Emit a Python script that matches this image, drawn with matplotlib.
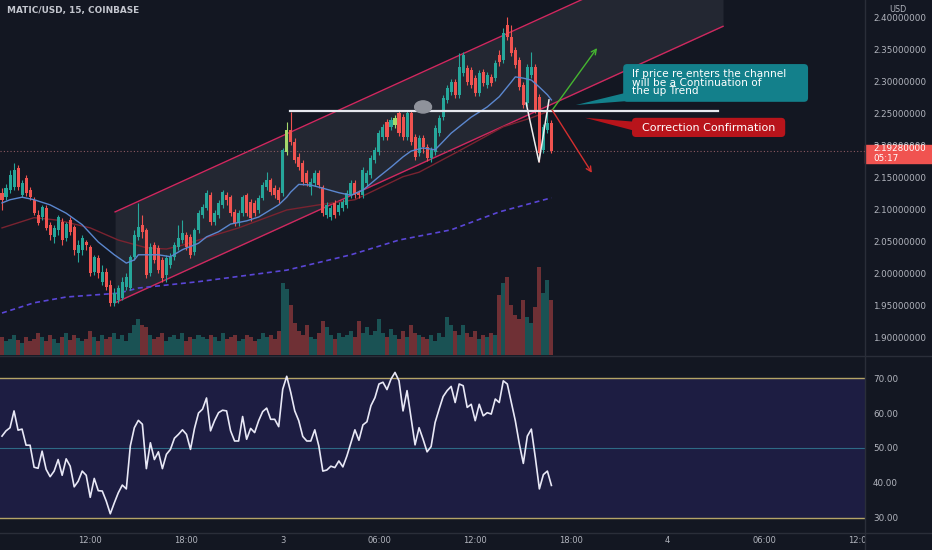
import matplotlib
matplotlib.use("Agg")
import matplotlib.pyplot as plt
from matplotlib.patches import Rectangle, Ellipse, FancyBboxPatch, Polygon
from matplotlib.transforms import blended_transform_factory, IdentityTransform
from matplotlib.lines import Line2D

# ---------------- data ----------------
opens = [2.127, 2.120, 2.131, 2.136, 2.166, 2.123, 2.150, 2.131, 2.116, 2.092,
         2.089, 2.103, 2.077, 2.058, 2.069, 2.081, 2.056, 2.084, 2.073, 2.033,
         2.038, 2.050, 2.042, 2.003, 2.025, 1.988, 2.003, 1.983, 1.955, 1.959,
         1.963, 1.980, 1.978, 2.027, 2.058, 2.077, 2.069, 2.002, 2.045, 2.041,
         2.022, 1.998, 2.014, 2.027, 2.042, 2.053, 2.061, 2.058, 2.034, 2.069,
         2.092, 2.103, 2.123, 2.081, 2.092, 2.108, 2.123, 2.120, 2.097, 2.080,
         2.095, 2.123, 2.113, 2.111, 2.100, 2.119, 2.136, 2.147, 2.134, 2.131,
         2.127, 2.191, 2.225, 2.206, 2.183, 2.173, 2.158, 2.136, 2.142, 2.158,
         2.136, 2.092, 2.089, 2.111, 2.097, 2.103, 2.108, 2.123, 2.142, 2.127,
         2.123, 2.142, 2.155, 2.178, 2.191, 2.214, 2.238, 2.230, 2.233, 2.252,
         2.245, 2.214, 2.252, 2.214, 2.189, 2.213, 2.198, 2.181, 2.191, 2.220,
         2.245, 2.272, 2.284, 2.300, 2.280, 2.314, 2.322, 2.319, 2.306, 2.283,
         2.316, 2.295, 2.308, 2.306, 2.342, 2.334, 2.389, 2.370, 2.350, 2.334,
         2.295, 2.267, 2.311, 2.323, 2.277, 2.194, 2.225, 2.236]
highs = [2.134, 2.141, 2.163, 2.173, 2.170, 2.147, 2.155, 2.136, 2.120, 2.100,
         2.108, 2.108, 2.081, 2.077, 2.092, 2.088, 2.081, 2.089, 2.077, 2.053,
         2.061, 2.053, 2.045, 2.030, 2.030, 2.014, 2.009, 1.991, 1.978, 1.983,
         1.995, 2.002, 2.030, 2.069, 2.111, 2.092, 2.072, 2.048, 2.050, 2.045,
         2.027, 2.030, 2.033, 2.050, 2.077, 2.084, 2.066, 2.063, 2.072, 2.100,
         2.109, 2.131, 2.128, 2.100, 2.116, 2.131, 2.128, 2.123, 2.102, 2.100,
         2.123, 2.127, 2.117, 2.116, 2.123, 2.144, 2.159, 2.150, 2.139, 2.136,
         2.197, 2.238, 2.253, 2.213, 2.189, 2.178, 2.163, 2.150, 2.163, 2.163,
         2.139, 2.113, 2.108, 2.116, 2.113, 2.117, 2.131, 2.147, 2.147, 2.131,
         2.167, 2.163, 2.186, 2.198, 2.225, 2.234, 2.242, 2.245, 2.248, 2.256,
         2.250, 2.256, 2.256, 2.219, 2.217, 2.217, 2.203, 2.198, 2.233, 2.248,
         2.280, 2.295, 2.305, 2.305, 2.345, 2.347, 2.327, 2.323, 2.311, 2.319,
         2.320, 2.316, 2.313, 2.334, 2.350, 2.384, 2.401, 2.389, 2.355, 2.339,
         2.300, 2.328, 2.347, 2.328, 2.281, 2.234, 2.256, 2.241]
lows = [2.100, 2.116, 2.127, 2.131, 2.131, 2.120, 2.122, 2.116, 2.092, 2.077,
        2.084, 2.069, 2.053, 2.048, 2.061, 2.045, 2.052, 2.061, 2.030, 2.019,
        2.030, 2.038, 1.997, 1.998, 1.994, 1.983, 1.975, 1.950, 1.950, 1.955,
        1.959, 1.975, 1.975, 2.022, 2.053, 2.056, 1.994, 1.997, 2.017, 2.002,
        1.988, 1.988, 2.009, 2.022, 2.038, 2.048, 2.038, 2.025, 2.030, 2.064,
        2.088, 2.100, 2.077, 2.077, 2.088, 2.103, 2.108, 2.091, 2.075, 2.075,
        2.091, 2.091, 2.083, 2.091, 2.095, 2.116, 2.131, 2.123, 2.119, 2.111,
        2.122, 2.186, 2.202, 2.173, 2.163, 2.139, 2.138, 2.123, 2.138, 2.134,
        2.091, 2.088, 2.084, 2.088, 2.092, 2.098, 2.103, 2.119, 2.119, 2.119,
        2.119, 2.138, 2.150, 2.173, 2.186, 2.209, 2.209, 2.225, 2.228, 2.216,
        2.209, 2.209, 2.202, 2.178, 2.184, 2.189, 2.177, 2.175, 2.186, 2.216,
        2.241, 2.267, 2.280, 2.275, 2.275, 2.309, 2.295, 2.291, 2.278, 2.278,
        2.294, 2.291, 2.294, 2.302, 2.325, 2.330, 2.366, 2.341, 2.322, 2.288,
        2.259, 2.263, 2.306, 2.252, 2.175, 2.189, 2.220, 2.189]
closes = [2.116, 2.134, 2.155, 2.163, 2.136, 2.142, 2.127, 2.120, 2.095, 2.080,
          2.105, 2.072, 2.061, 2.072, 2.089, 2.053, 2.078, 2.066, 2.038, 2.045,
          2.056, 2.045, 2.002, 2.027, 2.002, 2.003, 1.980, 1.955, 1.970, 1.978,
          1.988, 1.995, 2.027, 2.061, 2.073, 2.066, 1.998, 2.042, 2.022, 2.006,
          1.994, 2.025, 2.027, 2.045, 2.056, 2.064, 2.042, 2.030, 2.069, 2.095,
          2.105, 2.127, 2.081, 2.095, 2.111, 2.128, 2.116, 2.095, 2.080, 2.095,
          2.120, 2.095, 2.088, 2.095, 2.119, 2.139, 2.147, 2.128, 2.123, 2.116,
          2.194, 2.225, 2.206, 2.178, 2.167, 2.144, 2.142, 2.144, 2.158, 2.139,
          2.095, 2.108, 2.103, 2.092, 2.108, 2.113, 2.127, 2.142, 2.123, 2.123,
          2.163, 2.158, 2.181, 2.194, 2.220, 2.230, 2.214, 2.241, 2.244, 2.220,
          2.214, 2.252, 2.206, 2.183, 2.213, 2.198, 2.181, 2.194, 2.228, 2.244,
          2.275, 2.291, 2.300, 2.280, 2.323, 2.342, 2.300, 2.295, 2.283, 2.314,
          2.298, 2.311, 2.298, 2.330, 2.331, 2.377, 2.370, 2.345, 2.327, 2.292,
          2.264, 2.323, 2.323, 2.256, 2.189, 2.230, 2.236, 2.1928]
highlighted = [71, 98]

volumes_k = [180, 140, 160, 200, 150, 120, 180, 140, 160, 220, 180,
             140, 200, 160, 120, 180, 220, 150, 200, 170, 140,
             160, 240, 180, 140, 200, 160, 180, 220, 160, 200,
             140, 220, 300, 360, 300, 280, 200, 160, 180, 220,
             140, 180, 200, 160, 220, 140, 180, 160, 200, 180,
             160, 200, 180, 140, 220, 160, 180, 200, 140, 160,
             200, 180, 140, 160, 220, 180, 200, 160, 240, 720,
             660, 500, 320, 240, 200, 300, 180, 160, 220, 340,
             280, 200, 160, 220, 180, 200, 240, 180, 340, 220,
             280, 200, 240, 360, 220, 180, 260, 200, 160, 240,
             180, 300, 220, 200, 180, 160, 200, 140, 220, 180,
             380, 300, 240, 200, 300, 220, 180, 240, 160, 200,
             180, 220, 200,
             600, 720, 780, 500, 400, 360, 550, 380, 320, 480, 880, 620, 750, 550]

rsi = [53.4, 54.9, 55.8, 60.6, 55.1, 55.4, 50.8, 50.8, 44.5, 44.2,
       49.1, 43.9, 41.8, 43.4, 46.7, 42.2, 46.9, 44.8, 38.9, 40.5,
       43.4, 42.2, 35.9, 41.3, 37.8, 37.7, 34.8, 31.2, 34.3, 37.2,
       39.4, 38.3, 50.6, 55.8, 57.9, 56.8, 44.1, 51.5, 46.7, 48.9,
       44.1, 48.2, 49.6, 52.8, 53.9, 55.2, 53.9, 49.6, 55.6, 60.0,
       61.1, 64.3, 54.9, 57.8, 60.1, 60.8, 60.6, 54.9, 52.0, 52.0,
       59.0, 52.5, 55.6, 54.4, 57.8, 60.4, 61.4, 58.2, 58.2, 56.1,
       66.8, 70.5, 65.9, 60.6, 57.8, 53.3, 52.0, 52.0, 55.2, 50.6,
       43.4, 43.7, 44.8, 44.4, 46.3, 44.6, 47.7, 51.5, 55.2, 52.2,
       56.6, 57.5, 62.1, 64.4, 68.3, 68.8, 66.7, 69.7, 71.6, 69.2,
       60.6, 66.4, 58.7, 50.9, 55.8, 52.5, 48.9, 50.4, 57.3, 61.1,
       64.7, 66.4, 67.6, 63.0, 68.3, 67.8, 61.6, 62.5, 57.8, 62.5,
       59.2, 60.1, 59.7, 64.0, 63.0, 69.2, 68.3, 63.0, 57.8, 51.2,
       45.6, 53.4, 55.4, 47.2, 38.3, 42.4, 43.4, 39.3]

# moving averages read at sample candles
ma_fast_idx = [0, 2, 5, 8, 12, 16, 20, 24, 28, 31, 33, 34, 39, 42, 45, 49, 51, 54,
               57, 61, 64, 69, 71, 72, 74, 77, 80, 84, 87, 90, 94, 97, 100, 102,
               105, 108, 112, 117, 121, 124, 127, 128, 130, 132, 134, 136, 137]
ma_fast_val = [2.111, 2.116, 2.120, 2.116, 2.108, 2.095, 2.077, 2.050, 2.030, 2.017,
               2.022, 2.030, 2.030, 2.027, 2.038, 2.048, 2.058, 2.066, 2.078, 2.083,
               2.089, 2.108, 2.120, 2.128, 2.140, 2.139, 2.134, 2.127, 2.123, 2.131,
               2.152, 2.167, 2.183, 2.192, 2.197, 2.194, 2.220, 2.245, 2.261, 2.277,
               2.300, 2.308, 2.306, 2.303, 2.292, 2.280, 2.272]
ma_slow_idx = [0, 8, 14, 22, 29, 36, 41, 45, 49, 59, 71, 79, 88, 100, 104, 113, 125, 132, 137]
ma_slow_val = [2.072, 2.088, 2.084, 2.072, 2.053, 2.041, 2.039, 2.045, 2.053, 2.072,
               2.100, 2.108, 2.116, 2.152, 2.159, 2.189, 2.230, 2.244, 2.256]
ma_long_idx = [0, 8, 16, 29, 34, 49, 71, 87, 99, 112, 124, 137]
ma_long_val = [1.939, 1.955, 1.964, 1.970, 1.978, 1.988, 2.006, 2.030, 2.053, 2.069, 2.097, 2.119]

# drawings
channel_x = [28.2, 179.8]
channel_upper = [2.097, 2.529]
channel_lower = [1.955, 2.387]
level_x = [71.8, 178.6]
level_price = 2.254
v_x = [130.7, 133.9, 136.4]
v_p = [2.267, 2.175, 2.272]

price_ticks = [1.90, 1.95, 2.00, 2.05, 2.10, 2.15, 2.20, 2.25, 2.30, 2.35, 2.40]
rsi_ticks = [30, 40, 50, 60, 70]
time_pos = [22, 46, 70, 94, 118, 142, 166, 190, 214]
time_labels = ["12:00", "18:00", "3", "06:00", "12:00", "18:00", "4", "06:00", "12:00"]

# ---------------- style ----------------
BG = "#131722"
TXT = "#b2b5be"
GREEN = "#26a69a"
RED = "#ef5350"
W, H = 932, 550
PANE_R = 865
XLIM = (-0.5, 215.2)
PLIM = (1.8734, 2.4281)
plt.rcParams["font.family"] = ["DejaVu Sans"]

fig = plt.figure(figsize=(W / 100, H / 100), dpi=100, facecolor=BG)


def frect(left, top, right, bottom):
    return [left / W, 1 - bottom / H, (right - left) / W, (bottom - top) / H]


prect = frect(0, 0, PANE_R, 355)
axv = fig.add_axes(prect)
ax = fig.add_axes(prect)
for a in (axv, ax):
    a.patch.set_visible(False)
    for s in a.spines.values():
        s.set_visible(False)
    a.set_xlim(*XLIM)

# volume
n = len(closes)
idx = list(range(n))
vcols = [GREEN if c >= o else RED for o, c in zip(opens, closes)]
axv.bar(idx, volumes_k, width=1.0, color=vcols, alpha=0.42, linewidth=0)
axv.set_ylim(0, 3550)
axv.set_xticks([])
axv.set_yticks([])

# channel
ax.fill_between(channel_x, channel_lower, channel_upper, color="#2a2e39", alpha=0.7, lw=0, zorder=0.5)
ax.plot(channel_x, channel_upper, color="#d0285f", lw=1.0, zorder=1)
ax.plot(channel_x, channel_lower, color="#d0285f", lw=1.0, zorder=1)

# moving averages
ax.plot(ma_long_idx, ma_long_val, color="#5a46d6", lw=1.2, ls=(0, (3, 2.2)), zorder=1.2)
ax.plot(ma_slow_idx, ma_slow_val, color="#7a2330", lw=1.0, zorder=1.2)

# candles
for i in idx:
    o, h, l, c = opens[i], highs[i], lows[i], closes[i]
    col = GREEN if c >= o else RED
    if i in highlighted:
        col = "#a5d86b"
    ax.vlines(i, l, h, color=col, lw=0.8, zorder=2)
    ax.bar(i, max(abs(c - o), 0.0012), bottom=min(o, c), width=0.76, color=col, lw=0, zorder=2)

ax.plot(ma_fast_idx, ma_fast_val, color="#5b87cf", lw=1.0, zorder=2.5)

# current price line
last = closes[-1]
ax.axhline(last, color="#8c5a62", lw=0.8, ls=(0, (1, 2)), zorder=1)

# horizontal level, ellipse, V
ax.plot(level_x, [level_price, level_price], color="#e6e8ee", lw=1.6, zorder=3)
ax.add_patch(Ellipse((105, 2.261), 4.2, 0.019, color="#8f929b", zorder=3.2))
ax.plot(v_x, v_p, color="#eeeeee", lw=1.1, zorder=3)

# arrows
ax.annotate("", xy=(148.4, 2.353), xytext=(137.2, 2.256),
            arrowprops=dict(arrowstyle="->", color="#45b530", lw=1.0, shrinkA=0, shrinkB=0, mutation_scale=9), zorder=3)
ax.annotate("", xy=(147.1, 2.158), xytext=(137.2, 2.256),
            arrowprops=dict(arrowstyle="->", color="#d32f2f", lw=1.0, shrinkA=0, shrinkB=0, mutation_scale=9), zorder=3)

ax.set_ylim(*PLIM)
ax.set_yticks(price_ticks)
ax.set_yticklabels([f"{t:.8f}" for t in price_ticks])
ax.yaxis.tick_right()
ax.tick_params(axis="y", length=0, pad=5.8, labelsize=6.3, labelcolor=TXT)
ax.set_xticks([])


def disp(x, y):
    return ax.transData.transform((x, y))


def callout(box_x, box_p, tip, base, color):
    (x0, x1), (p0, p1) = box_x, box_p
    a0 = disp(x0, p0)
    a1 = disp(x1, p1)
    pts = [disp(*tip), disp(*base[0]), disp(*base[1])]
    ax.add_patch(Polygon(pts, closed=True, color=color, transform=IdentityTransform(), zorder=4, lw=0))
    ax.add_patch(FancyBboxPatch((a0[0], a0[1]), a1[0] - a0[0], a1[1] - a0[1],
                                boxstyle="round,pad=0,rounding_size=4", color=color,
                                transform=IdentityTransform(), zorder=4, lw=0))


callout((154.9, 201.0), (2.269, 2.328), (143.1, 2.264), [(155.5, 2.283), (155.5, 2.270)], "#13808b")
callout((157.1, 195.3), (2.214, 2.244), (145.4, 2.244), [(157.6, 2.238), (157.6, 2.224)], "#b8141b")
teal_lines = ["If price re enters the channel", "will be a Continuation of", "the up Trend"]
for txt, p in zip(teal_lines, [2.3128, 2.2988, 2.2855]):
    ax.text(157.1, p, txt, color="white", fontsize=7.6, va="center", ha="left", zorder=5)
ax.text(176.1, 2.2286, "Correction Confirmation", color="white", fontsize=8.0, va="center", ha="center", zorder=5)

# last price label
tr = blended_transform_factory(ax.transAxes, ax.transData)
ax.add_patch(Rectangle((1.0, last - 12.4 / 640), 67 / PANE_R, 18 / 640, transform=tr,
                       color="#f05350", clip_on=False, zorder=10))
ax.text(1 + 8 / PANE_R, last + 1.6 / 640, f"{last:.8f}", transform=tr, color="white",
        fontsize=6.3, va="center", ha="left", clip_on=False, zorder=11)
ax.text(1 + 8 / PANE_R, last - 7.6 / 640, "05:17", transform=tr, color="white",
        fontsize=6.3, va="center", ha="left", clip_on=False, zorder=11)

# RSI pane
axr = fig.add_axes(frect(0, 356, PANE_R, 533))
axr.patch.set_visible(False)
for s in axr.spines.values():
    s.set_visible(False)
axr.set_xlim(*XLIM)
axr.set_ylim(25.7, 76.3)
axr.axhspan(30, 70, color="#1d1d42", lw=0, zorder=0)
axr.axhline(70, color="#b4a467", lw=1.0, zorder=1)
axr.axhline(30, color="#b4a467", lw=1.0, zorder=1)
axr.axhline(50, color="#2e6a86", lw=0.8, zorder=1)
axr.plot(range(len(rsi)), rsi, color="#e8e8f6", lw=1.2, zorder=2)
axr.set_yticks(rsi_ticks)
axr.set_yticklabels([f"{t:.2f}" for t in rsi_ticks])
axr.yaxis.tick_right()
axr.tick_params(axis="y", length=0, pad=5.8, labelsize=6.3, labelcolor=TXT)
axr.set_xticks([])

# time axis
axt = fig.add_axes(frect(0, 533, PANE_R, 550))
axt.axis("off")
axt.set_xlim(*XLIM)
axt.set_ylim(0, 1)
for pos, lab in zip(time_pos, time_labels):
    axt.text(pos, 0.53, lab, color=TXT, fontsize=6.0, ha="center", va="center", clip_on=True)

# separators
sep = "#2a2e39"
fig.add_artist(Line2D([PANE_R / W, PANE_R / W], [0, 1], color=sep, lw=1.0))
fig.add_artist(Line2D([0, 1], [1 - 355.5 / H, 1 - 355.5 / H], color=sep, lw=1.0))
fig.add_artist(Line2D([0, 1], [1 - 533 / H, 1 - 533 / H], color=sep, lw=1.0))

# title & currency
fig.text(7 / W, 1 - 10 / H, "MATIC/USD, 15, COINBASE", color="#c3c6ce", fontsize=6.4,
         fontweight="bold", ha="left", va="center")
fig.text(898 / W, 1 - 9 / H, "USD", color=TXT, fontsize=5.8, ha="center", va="center")

fig.savefig("out.png", dpi=100, facecolor=BG)
